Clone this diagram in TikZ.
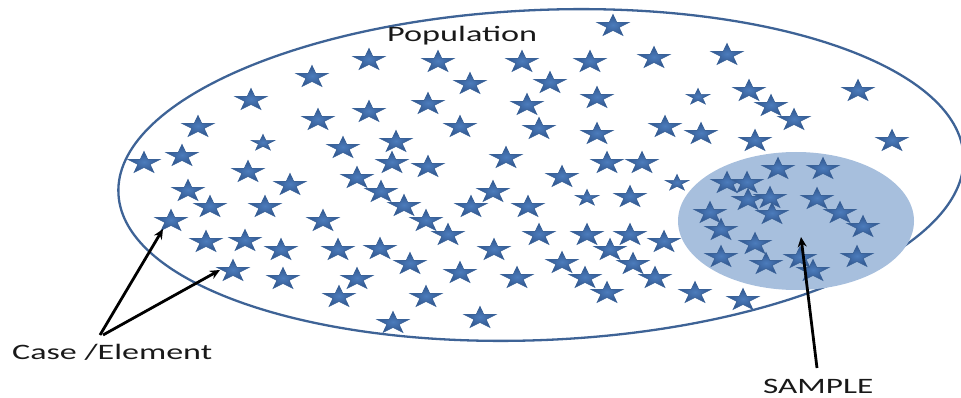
\documentclass[tikz,border=0pt]{standalone}
\usepackage{fontspec}
\setmainfont{Carlito}
\usetikzlibrary{shapes.geometric,arrows.meta}
\definecolor{popline}{RGB}{62,99,150}
\definecolor{sampfill}{RGB}{167,191,221}
\definecolor{stardark}{RGB}{48,86,142}
\definecolor{starlite}{RGB}{76,124,188}
\definecolor{starline}{RGB}{58,98,152}
\definecolor{txt}{RGB}{25,25,25}
\begin{document}
\begin{tikzpicture}[x=1pt,y=-1pt,
  popell/.style={ellipse, draw=popline, line width=2.3pt, minimum width=846pt, minimum height=330pt, inner sep=0pt},
  sampell/.style={ellipse, fill=sampfill, minimum width=236pt, minimum height=138pt, inner sep=0pt},
  bstar/.style={star, star points=5, star point ratio=2.6, minimum size=23pt, inner sep=0pt, xscale=1.45,
     draw=starline, line width=0.7pt, inner color=starlite, outer color=stardark},
  sstar/.style={bstar, minimum size=17pt},
  lbl/.style={inner sep=0pt, anchor=base west, text=txt, font=\fontsize{22}{26}\selectfont},
  arr/.style={draw=black, line width=2.8pt, -{Stealth[length=10pt,width=9pt]}}]
\useasboundingbox (0,0) rectangle (961,398);
\node[popell, rotate=2.5] (pop) at (541,175) {};
\node[sampell] (samp) at (796,221) {};
% population stars
\foreach [count=\i] \x/\y in {613/26,369/60,438/62,522/62,590/62,654/58,727/55,312/77,470/84,550/83,
  251/100,428/104,527/105,597/98,749/91,771/106,858/91,369/112,318/120,198/127,
  460/127,539/129,597/134,665/127,701/134,794/120,396/142,343/148,755/141,892/141,
  182/156,144/163,392/163,428/167,506/158,607/163,642/163,248/172,290/185,357/178,
  562/177,188/191,381/192,493/192,630/197,210/207,265/207,404/206,471/207,528/207,
  171/221,323/221,426/221,448/235,539/235,587/235,630/235,664/242,206/242,245/241,
  281/250,338/250,380/249,494/250,610/250,410/264,562/263,633/264,233/271,283/279,
  357/279,460/273,517/278,585/278,655/278,339/297,426/297,607/293,695/293,743/300,
  393/323,480/318}
  \node[bstar] (p\i) at (\x,\y) {};
\foreach [count=\i] \x/\y in {263/143,698/97,677/183,587/198}
  \node[sstar] (q\i) at (\x,\y) {};
% sample stars
\foreach [count=\i] \x/\y in {778/169,823/169,727/183,747/183,748/200,770/198,772/214,817/199,840/213,863/227,
  710/213,721/230,755/244,721/257,766/264,800/258,813/271,857/257}
  \node[bstar] (m\i) at (\x,\y) {};
% labels
\node[lbl] (poplbl) at (387,42) {\resizebox{150pt}{\height}{Population}};
\node[lbl] (case) at (12,359) {\resizebox{200pt}{\height}{Case /Element}};
\node[lbl] (sample) at (763,393) {\resizebox{110pt}{\height}{SAMPLE}};
% arrows
\coordinate (ct1) at (100,335);
\coordinate (ct2) at (103,335);
\coordinate (tip1) at (163,229);
\coordinate (tip2) at (220,270);
\coordinate (stail) at (817,368);
\coordinate (stip) at (801,237);
\draw[arr] (ct1) -- (tip1);
\draw[arr] (ct2) -- (tip2);
\draw[arr] (stail) -- (stip);
\end{tikzpicture}
\end{document}
